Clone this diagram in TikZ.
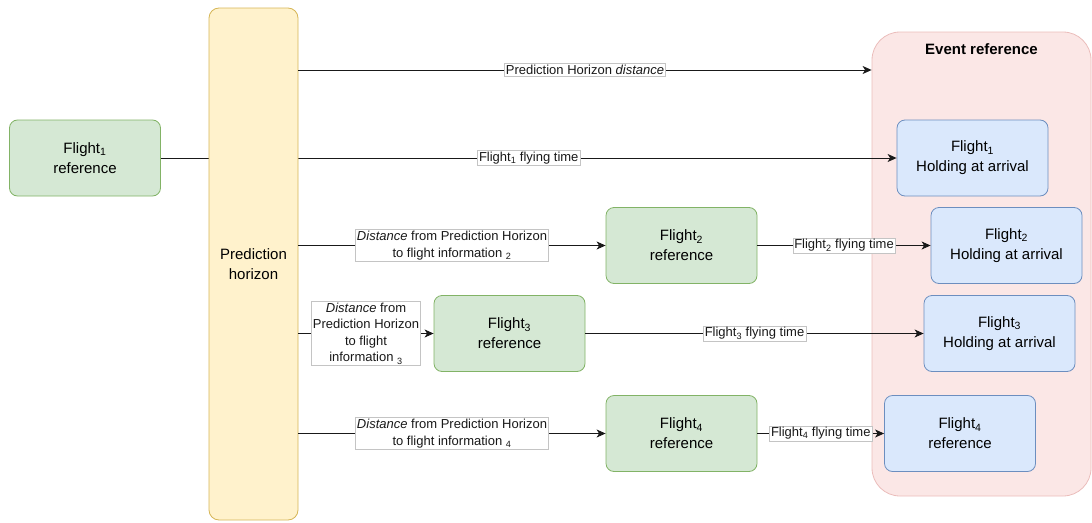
\documentclass[tikz,border=0pt]{standalone}
\usepackage{fontspec}
\setmainfont{Liberation Sans}
\usetikzlibrary{arrows.meta}
\definecolor{greenfill}{HTML}{D5E8D4}
\definecolor{greenline}{HTML}{82B366}
\definecolor{bluefill}{HTML}{DAE8FC}
\definecolor{blueline}{HTML}{6C8EBF}
\definecolor{phfill}{HTML}{FFF2CC}
\definecolor{phline}{HTML}{D6B656}
\definecolor{eventfill}{HTML}{FBE7E6}
\definecolor{eventline}{HTML}{EBBDBB}
\definecolor{tagline}{HTML}{C4C4C4}

\begin{document}
\begin{tikzpicture}
      [
        x=1pt, y=-1pt,
        box/.style={draw, rounded corners=8pt, line width=0.8pt,
          minimum width=151pt, minimum height=76pt, align=center,
          font=\fontsize{15}{20}\selectfont},
        flight/.style={box, fill=greenfill, draw=greenline},
        holding/.style={box, fill=bluefill, draw=blueline},
        tag/.style={fill=white, draw=tagline, line width=0.5pt, inner sep=1.5pt,
          align=center, font=\fontsize{13}{16.5}\selectfont},
        link/.style={line width=0.9pt, black!90, ->,
          >={Stealth[length=9pt, width=8pt, inset=2.5pt]}}
      ]
      \useasboundingbox (0,0) rectangle (1092,522);
      % event frame
      \node [draw=eventline, fill=eventfill, line width=0.8pt, rounded corners=28pt,
        minimum width=219pt, minimum height=464pt,
        label={[anchor=north, yshift=-8pt, font=\bfseries\fontsize{15}{18}\selectfont]north:Event reference}]
        (evt) at (981.5,264) {};
      \coordinate (top) at (600,70);
      % flights
      \node [flight] (f1) at (85,158)    {Flight\textsubscript{1}\\reference};
      \node [flight] (f2) at (681.5,245.5) {Flight\textsubscript{2}\\reference};
      \node [flight] (f3) at (509.5,333.5) {Flight\textsubscript{3}\\reference};
      \node [flight] (f4) at (681.5,433.5) {Flight\textsubscript{4}\\reference};
      % holdings
      \node [holding] (h1) at (972.5,158)   {Flight\textsubscript{1}\\Holding at arrival};
      \node [holding] (h2) at (1006.5,245.5) {Flight\textsubscript{2}\\Holding at arrival};
      \node [holding] (h3) at (999.5,333.5)  {Flight\textsubscript{3}\\Holding at arrival};
      \node [holding] (h4) at (960,433.5)    {Flight\textsubscript{4}\\reference};
      % first flight, behind the horizon
      \draw [link] (f1) -- (h1)
        node [tag, midway] {Flight\textsubscript{1} flying time};
      % horizon
      \node [fill=phfill, draw=phline, line width=0.8pt, rounded corners=10pt,
        minimum width=89pt, minimum height=512pt, align=center,
        font=\fontsize{15}{20}\selectfont] (ph) at (253.5,264) {Prediction\\horizon};
      % distances
      \draw [link] (ph.east |- top) -- (evt.west |- top)
        node [tag, midway] {Prediction Horizon \textit{distance}};
      \draw [link] (ph.east |- f2) -- (f2)
        node [tag, midway] {\textit{Distance} from Prediction Horizon\\to flight information \textsubscript{2}};
      \draw [link] (ph.east |- f3) -- (f3)
        node [tag, midway] {\textit{Distance} from\\Prediction Horizon\\to flight\\information \textsubscript{3}};
      \draw [link] (ph.east |- f4) -- (f4)
        node [tag, midway] {\textit{Distance} from Prediction Horizon\\to flight information \textsubscript{4}};
      % flying times
      \draw [link] (f2) -- (h2)
        node [tag, midway] {Flight\textsubscript{2} flying time};
      \draw [link] (f3) -- (h3)
        node [tag, midway] {Flight\textsubscript{3} flying time};
      \draw [link] (f4) -- (h4)
        node [tag, midway] {Flight\textsubscript{4} flying time};
    \end{tikzpicture}
\end{document}
